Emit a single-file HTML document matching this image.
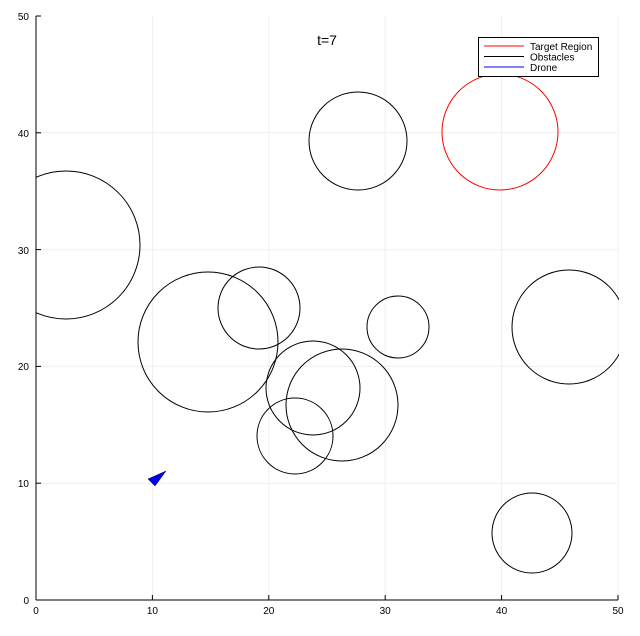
<!DOCTYPE html>
<html><head><style>body{margin:0;background:#fff}</style></head><body>
<svg width="640" height="631" xmlns="http://www.w3.org/2000/svg" font-family="Liberation Sans, sans-serif">
<defs><clipPath id="c"><rect x="36" y="16" width="583" height="584"/></clipPath></defs>
<g stroke="#efefef" stroke-width="1">
<line x1="152.4" y1="16" x2="152.4" y2="600"/><line x1="268.8" y1="16" x2="268.8" y2="600"/><line x1="385.2" y1="16" x2="385.2" y2="600"/><line x1="501.6" y1="16" x2="501.6" y2="600"/><line x1="618" y1="16" x2="618" y2="600"/>
<line x1="36" y1="483.2" x2="618" y2="483.2"/><line x1="36" y1="366.4" x2="618" y2="366.4"/><line x1="36" y1="249.6" x2="618" y2="249.6"/><line x1="36" y1="132.8" x2="618" y2="132.8"/>
</g>
<g stroke="#000" stroke-width="1">
<line x1="36" y1="16" x2="36" y2="600"/><line x1="36" y1="600" x2="618" y2="600"/>
<line x1="152.4" y1="600" x2="152.4" y2="595"/><line x1="268.8" y1="600" x2="268.8" y2="595"/><line x1="385.2" y1="600" x2="385.2" y2="595"/><line x1="501.6" y1="600" x2="501.6" y2="595"/><line x1="618" y1="600" x2="618" y2="595"/>
<line x1="36" y1="483.2" x2="41" y2="483.2"/><line x1="36" y1="366.4" x2="41" y2="366.4"/><line x1="36" y1="249.6" x2="41" y2="249.6"/><line x1="36" y1="132.8" x2="41" y2="132.8"/><line x1="36" y1="16" x2="41" y2="16"/>
</g>
<g font-size="10" fill="#000" text-anchor="middle">
<text x="36" y="614">0</text><text x="152.4" y="614">10</text><text x="268.8" y="614">20</text><text x="385.2" y="614">30</text><text x="501.6" y="614">40</text><text x="618" y="614">50</text>
</g>
<g font-size="10" fill="#000" text-anchor="end">
<text x="29" y="604">0</text><text x="29" y="487">10</text><text x="29" y="370">20</text><text x="29" y="254">30</text><text x="29" y="137">40</text><text x="29" y="20">50</text>
</g>
<text x="327" y="45" font-size="14" text-anchor="middle">t=7</text>
<g clip-path="url(#c)" fill="none" stroke="#000" stroke-width="1">
<circle cx="500" cy="132" r="58" stroke="#f00"/>
<circle cx="358" cy="141" r="49"/>
<circle cx="66" cy="245" r="74"/>
<circle cx="208" cy="342" r="70"/>
<circle cx="259" cy="308" r="41"/>
<circle cx="398" cy="327" r="31"/>
<circle cx="569" cy="327" r="57"/>
<circle cx="313" cy="388" r="47"/>
<circle cx="342" cy="405" r="56"/>
<circle cx="295" cy="436" r="38"/>
<circle cx="532" cy="533" r="40"/>
</g>
<polygon points="166,471 148,479 155,486" fill="#0000e0" stroke="#000040" stroke-width="0.5"/>
<rect x="478.5" y="37.5" width="120" height="39" fill="#fff" stroke="#000"/>
<line x1="484" y1="46" x2="524" y2="46" stroke="#f00"/>
<line x1="484" y1="56.5" x2="524" y2="56.5" stroke="#000"/>
<line x1="484" y1="67" x2="524" y2="67" stroke="#00f"/>
<g font-size="10" fill="#000"><text x="530" y="50">Target Region</text><text x="530" y="60.5">Obstacles</text><text x="530" y="71">Drone</text></g>
</svg>
</body></html>
